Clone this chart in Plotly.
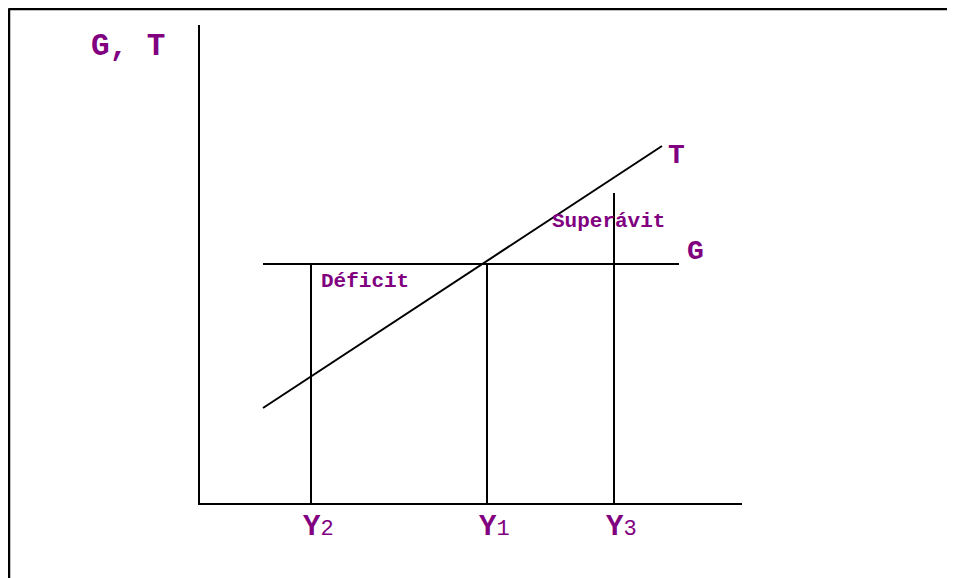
import plotly.graph_objects as go

# Diagram units: origin at the corner of the axes, y grows upward
income_names = ["2", "1", "3"]          # Y2, Y1, Y3 subscripts
income_levels = [112, 288, 415]          # position of each income level on the Y axis
income_tops = [240, 240, 311]            # where each vertical guide line stops

gov_spending = 240                       # G is flat
g_x = [64, 480]
t_x = [64, 463]
t_y = [96, 358]                          # tax revenue rises with income

axis_x_end = 543
axis_y_end = 479

PURPLE = "#800080"
FONT = "Liberation Mono, Courier New, monospace"
LINE = dict(color="black", width=2)

fig = go.Figure()

# axes
fig.add_trace(go.Scatter(x=[0, 0, axis_x_end], y=[axis_y_end, 0, 0], mode="lines", line=LINE))
# G and T lines
fig.add_trace(go.Scatter(x=g_x, y=[gov_spending, gov_spending], mode="lines", line=LINE))
fig.add_trace(go.Scatter(x=t_x, y=t_y, mode="lines", line=LINE))
# vertical guides at each income level
for xv, top in zip(income_levels, income_tops):
    fig.add_trace(go.Scatter(x=[xv, xv], y=[0, top], mode="lines", line=LINE))

def label(x, y, text, size):
    fig.add_annotation(x=x, y=y, text=text, showarrow=False, xanchor="center", yanchor="middle",
                       font=dict(family=FONT, size=size, color=PURPLE))

label(-71, 458, "<b>G, T</b>", 31)
label(t_x[1] + 14, t_y[1] - 9, "<b>T</b>", 28)
label(g_x[1] + 16, gov_spending + 13, "<b>G</b>", 28)
label(166, 223, "<b>Déficit</b>", 21)
label(409, 283, "<b>Superávit</b>", 21)
for name, xv in zip(income_names, income_levels):
    label(xv + 7, -23, "<b>Y</b><span style='font-size:22px'>" + name + "</span>", 29)

# page frame (top and left edges)
fig.add_shape(type="line", xref="paper", yref="paper", x0=0.5 / 947, x1=1, y0=1 - 1 / 570, y1=1 - 1 / 570,
              line=dict(color="black", width=2.5))
fig.add_shape(type="line", xref="paper", yref="paper", x0=1 / 947, x1=1 / 947, y0=0, y1=1 - 0.5 / 570,
              line=dict(color="black", width=2.5))

fig.update_layout(
    width=947, height=570,
    margin=dict(l=0, r=0, t=0, b=0),
    paper_bgcolor="white", plot_bgcolor="white",
    showlegend=False,
    xaxis=dict(range=[-191, 756], visible=False, fixedrange=True),
    yaxis=dict(range=[-74, 496], visible=False, fixedrange=True),
)

fig.write_html("out.html", config=dict(displayModeBar=False))
